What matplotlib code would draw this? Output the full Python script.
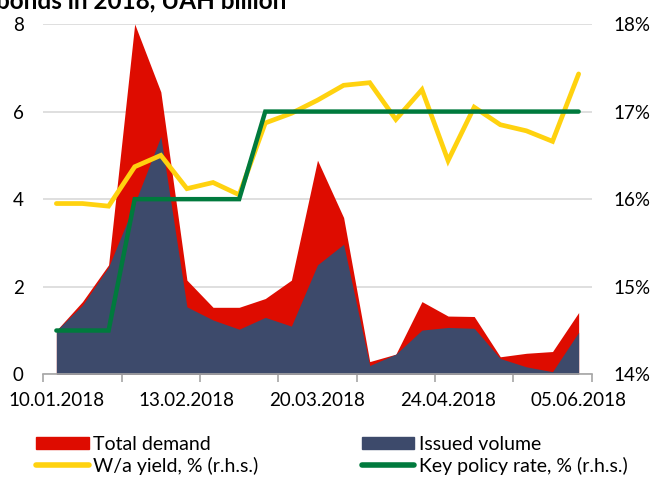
import matplotlib
matplotlib.use("Agg")
import matplotlib.pyplot as plt
from matplotlib.patches import Patch
from matplotlib.lines import Line2D
import numpy as np

plt.rcParams['font.family'] = ['Lato', 'DejaVu Sans']

# auction dates (only every fifth is labelled)
dates = ['10.01.2018', '16.01.2018', '23.01.2018', '30.01.2018', '06.02.2018',
         '13.02.2018', '20.02.2018', '27.02.2018', '06.03.2018', '13.03.2018',
         '20.03.2018', '27.03.2018', '03.04.2018', '10.04.2018', '17.04.2018',
         '24.04.2018', '03.05.2018', '15.05.2018', '22.05.2018', '29.05.2018',
         '05.06.2018']
total_demand = [1.0, 1.66, 2.5, 8.0, 6.45, 2.15, 1.53, 1.53, 1.73, 2.15, 4.89,
                3.58, 0.29, 0.46, 1.66, 1.33, 1.32, 0.40, 0.48, 0.52, 1.41]
issued_volume = [1.0, 1.58, 2.45, 3.9, 5.43, 1.54, 1.24, 1.03, 1.30, 1.10, 2.5,
                 2.97, 0.2, 0.46, 1.01, 1.07, 1.05, 0.36, 0.17, 0.06, 0.96]
wa_yield = [15.95, 15.95, 15.92, 16.37, 16.50, 16.12, 16.19, 16.05, 16.87, 16.98,
            17.13, 17.30, 17.33, 16.91, 17.25, 16.44, 17.05, 16.85, 16.78, 16.66,
            17.43]
key_rate = [14.5, 14.5, 14.5, 16.0, 16.0, 16.0, 16.0, 16.0, 17.0, 17.0, 17.0,
            17.0, 17.0, 17.0, 17.0, 17.0, 17.0, 17.0, 17.0, 17.0, 17.0]

RED = '#de0c00'
NAVY = '#3d4a6b'
YELLOW = '#ffd20f'
GREEN = '#007a3d'
FS = 13.5

W, H = 651, 478
fig = plt.figure(figsize=(W / 100, H / 100), dpi=100)
ax = fig.add_axes([43.3 / W, 1 - 374.3 / H, (591.7 - 43.3) / W, (374.3 - 24) / H])

x = np.arange(len(dates))
ax.fill_between(x, total_demand, 0, color=RED, linewidth=0)
ax.fill_between(x, issued_volume, 0, color=NAVY, linewidth=0)

ax.set_xlim(-0.5, len(dates) - 0.5)
ax.set_ylim(0, 8)
ax.set_yticks([0, 2, 4, 6, 8])
ax.yaxis.grid(True, color='#d9d9d9', linewidth=1.2)
ax.set_axisbelow(True)
for s in ['top', 'right', 'left']:
    ax.spines[s].set_visible(False)
ax.spines['bottom'].set_color('#a6a6a6')
ax.spines['bottom'].set_linewidth(1.2)
ax.spines['bottom'].set_zorder(5)

ax.set_xticks(np.arange(-0.5, len(dates), 3))
ax.set_xticklabels([])
ax.set_xticks(x[::5], minor=True)
ax.set_xticklabels(dates[::5], minor=True)
ax.tick_params(axis='x', which='major', length=6, width=1.2, color='#a6a6a6')
ax.tick_params(axis='x', which='minor', length=0, pad=13, labelsize=FS)
ax.tick_params(axis='y', length=0, pad=14, labelsize=FS)

ax2 = ax.twinx()
ax2.plot(x, wa_yield, color=YELLOW, linewidth=3.4, solid_capstyle='round',
         solid_joinstyle='miter')
ax2.plot(x, key_rate, color=GREEN, linewidth=3.2, solid_capstyle='round',
         solid_joinstyle='miter')
ax2.set_ylim(14, 18)
ax2.set_yticks([14, 15, 16, 17, 18])
ax2.set_yticklabels([f'{v}%' for v in [14, 15, 16, 17, 18]])
ax2.tick_params(axis='y', length=0, pad=15.5, labelsize=FS)
for s in ax2.spines.values():
    s.set_visible(False)

fig.text(-4 / W, 1 - 8 / H, 'bonds in 2018, UAH billion', fontsize=17.5,
         fontweight='bold', ha='left', va='baseline')

handles = [Patch(color=RED), Patch(color=NAVY),
           Line2D([], [], color=YELLOW, linewidth=4, solid_capstyle='round'),
           Line2D([], [], color=GREEN, linewidth=4, solid_capstyle='round')]
labels = ['Total demand', 'Issued volume', 'W/a yield, % (r.h.s.)',
          'Key policy rate, % (r.h.s.)']
# legend: two rows, two columns
order = [0, 2, 1, 3]
fig.legend([handles[i] for i in order], [labels[i] for i in order], ncol=2,
           loc='upper left', bbox_to_anchor=(36 / W, 1 - 436 / H),
           frameon=False, fontsize=14, handlelength=2.7, handleheight=0.62,
           handletextpad=0.25, columnspacing=5.3, labelspacing=0.2,
           borderaxespad=0, borderpad=0)

fig.savefig('out.png', dpi=100)
